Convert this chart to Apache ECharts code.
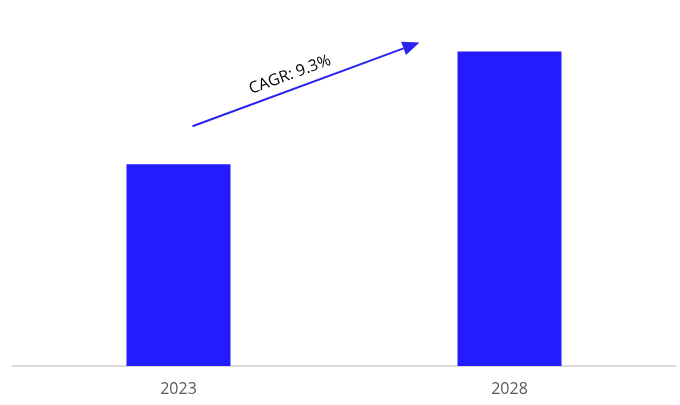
<!DOCTYPE html>
<html>
<head>
<meta charset="utf-8">
<script src="https://cdn.jsdelivr.net/npm/echarts@6/dist/echarts.min.js"></script>
<style>
  html, body { margin: 0; padding: 0; background: #fff; }
  #chart { width: 680px; height: 405px; }
</style>
</head>
<body>
<div id="chart"></div>
<script>
// Market size by year
const years = ['2023', '2028'];
const values = [4.6, 7.17];
const cagrText = 'CAGR: 9.3%';

const chart = echarts.init(document.getElementById('chart'));

chart.setOption({
  animation: false,
  grid: { left: 13, right: 5, top: 37, bottom: 39, containLabel: false },
  xAxis: {
    type: 'category',
    data: years,
    axisLine: { show: true, lineStyle: { color: '#d9d9d9', width: 2 } },
    axisTick: { show: false },
    axisLabel: {
      color: '#595959',
      fontFamily: 'Open Sans',
      fontSize: 16,
      margin: 15
    }
  },
  yAxis: {
    type: 'value',
    min: 0,
    max: 7.5,
    show: false,
    splitLine: { show: false }
  },
  series: [{
    type: 'bar',
    data: values,
    barWidth: 104,
    itemStyle: { color: '#231cff' }
  }]
});

// Growth arrow drawn between the two bars, anchored to the bar tops
function drawArrow() {
  const p0 = chart.convertToPixel({ seriesIndex: 0 }, [0, values[0]]);
  const p1 = chart.convertToPixel({ seriesIndex: 0 }, [1, values[1]]);
  const x0 = p0[0] + 14, y0 = p0[1] - 38;
  const x1 = p1[0] - 90, y1 = p1[1] - 9;
  const ang = Math.atan2(y1 - y0, x1 - x0);
  const headLen = 17, headHalf = 7;
  const bx = x1 - headLen * Math.cos(ang), by = y1 - headLen * Math.sin(ang);
  const nx = -Math.sin(ang), ny = Math.cos(ang);
  const mx = (x0 + x1) / 2, my = (y0 + y1) / 2;
  chart.setOption({
    graphic: [
      {
        type: 'line',
        shape: { x1: x0, y1: y0, x2: bx, y2: by },
        style: { stroke: '#2a22f0', lineWidth: 2 }
      },
      {
        type: 'polygon',
        shape: { points: [[x1, y1], [bx + nx * headHalf, by + ny * headHalf], [bx - nx * headHalf, by - ny * headHalf]] },
        style: { fill: '#2a22f0' }
      },
      {
        type: 'text',
        x: mx - 16,
        y: my - 9.5,
        rotation: -ang,
        style: {
          text: cagrText,
          font: '16px "Open Sans"',
          fill: '#000',
          align: 'center',
          verticalAlign: 'middle'
        }
      }
    ]
  });
}
drawArrow();
</script>
</body>
</html>
